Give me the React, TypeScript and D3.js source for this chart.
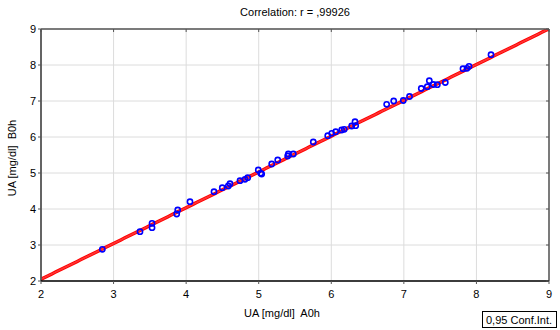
import React from "react";
import * as d3 from "d3";

const xValues = [2.845, 3.364, 3.53, 3.53, 3.87, 3.884, 4.053, 4.384, 4.498, 4.581, 4.604, 4.742, 4.811, 4.848, 4.994, 5.027, 5.041, 5.179, 5.262, 5.399, 5.408, 5.477, 5.752, 5.951, 6.006, 6.061, 6.143, 6.179, 6.281, 6.327, 6.336, 6.763, 6.86, 6.992, 7.078, 7.24, 7.323, 7.351, 7.406, 7.461, 7.571, 7.815, 7.87, 7.898, 8.201];
const yValues = [2.881, 3.369, 3.603, 3.481, 3.861, 3.972, 4.203, 4.481, 4.592, 4.639, 4.703, 4.786, 4.825, 4.869, 5.083, 4.992, 4.972, 5.25, 5.361, 5.472, 5.528, 5.528, 5.861, 6.036, 6.103, 6.147, 6.194, 6.214, 6.306, 6.425, 6.314, 6.908, 7.0, 7.014, 7.125, 7.347, 7.397, 7.564, 7.458, 7.453, 7.514, 7.897, 7.908, 7.964, 8.286];
const xTicks = [2, 3, 4, 5, 6, 7, 8, 9];
const yTicks = [2, 3, 4, 5, 6, 7, 8, 9];
const regIntercept = 0.06;
const regSlope = 0.994;
const confHalfWidth = 0.03;
const title = "Correlation: r = ,99926";
const xLabel = "UA [mg/dl]  A0h";
const yLabel = "UA [mg/dl]  B0h";
const legendText = "0,95 Conf.Int.";

export default function App() {
  const W = 560, H = 330;
  const left = 41, right = 549, top = 29, bottom = 281;
  const x = d3.scaleLinear().domain([2, 9]).range([left, right]);
  const y = d3.scaleLinear().domain([2, 9]).range([bottom, top]);
  const font = "'Liberation Sans', Arial, sans-serif";
  const lineXs = d3.range(2, 9.0001, 0.05);
  const mk = (off: number) =>
    d3.line<number>().x((d) => x(d)).y((d) => y(regIntercept + regSlope * d + off))(lineXs) || "";

  return (
    <svg width={W} height={H} style={{ position: "absolute", left: 0, top: 0, background: "#fff" }} fontFamily={font}>
      <defs>
        <clipPath id="plotclip">
          <rect x={left} y={top} width={right - left} height={bottom - top} />
        </clipPath>
      </defs>
      <rect x={0} y={0} width={W} height={H} fill="#fff" />
      {xTicks.map((t) => (
        <line key={"gx" + t} x1={x(t)} x2={x(t)} y1={top} y2={bottom} stroke="#dcdcdc" strokeWidth={1} />
      ))}
      {yTicks.map((t) => (
        <line key={"gy" + t} x1={left} x2={right} y1={y(t)} y2={y(t)} stroke="#dcdcdc" strokeWidth={1} />
      ))}
      <g clipPath="url(#plotclip)">
        <path d={mk(confHalfWidth)} fill="none" stroke="#ff0000" strokeWidth={1.5} />
        <path d={mk(-confHalfWidth)} fill="none" stroke="#ff0000" strokeWidth={1.5} />
        <path d={mk(0)} fill="none" stroke="#ff3030" strokeWidth={1.6} />
      </g>
      {xValues.map((v, i) => (
        <circle key={"p" + i} cx={x(v)} cy={y(yValues[i])} r={2.6} fill="none" stroke="#0000ff" strokeWidth={1.6} />
      ))}
      <line x1={left} x2={right} y1={top} y2={top} stroke="#555" strokeWidth={1.5} />
      <line x1={right} x2={right} y1={top} y2={bottom} stroke="#555" strokeWidth={1.5} />
      <line x1={left} x2={left} y1={top} y2={bottom} stroke="#555" strokeWidth={1.8} />
      <line x1={left} x2={right} y1={bottom} y2={bottom} stroke="#000" strokeWidth={1.5} />
      {xTicks.map((t) => (
        <g key={"tx" + t}>
          <line x1={x(t)} x2={x(t)} y1={top} y2={top + 3} stroke="#555" />
          <line x1={x(t)} x2={x(t)} y1={bottom} y2={bottom + 3} stroke="#555" />
          <text x={x(t)} y={bottom + 17} textAnchor="middle" fontSize={11} fill="#000">{t}</text>
        </g>
      ))}
      {yTicks.map((t) => (
        <g key={"ty" + t}>
          <line x1={left - 3} x2={left} y1={y(t)} y2={y(t)} stroke="#555" />
          <line x1={right - 3} x2={right} y1={y(t)} y2={y(t)} stroke="#555" />
          <text x={left - 5} y={y(t) + 4} textAnchor="end" fontSize={11} fill="#000">{t}</text>
        </g>
      ))}
      <text x={295} y={16} textAnchor="middle" fontSize={11} fill="#000">{title}</text>
      <text x={282} y={317} textAnchor="middle" fontSize={11} fill="#000" style={{ whiteSpace: "pre" }}>{xLabel}</text>
      <text x={0} y={0} transform={`translate(16,158) rotate(-90)`} textAnchor="middle" fontSize={11} fill="#000" style={{ whiteSpace: "pre" }}>{yLabel}</text>
      <rect x={482.5} y={311.5} width={74} height={16} fill="#fff" stroke="#000" strokeWidth={1} />
      <text x={486} y={323.5} fontSize={11} fill="#000">{legendText}</text>
    </svg>
  );
}
